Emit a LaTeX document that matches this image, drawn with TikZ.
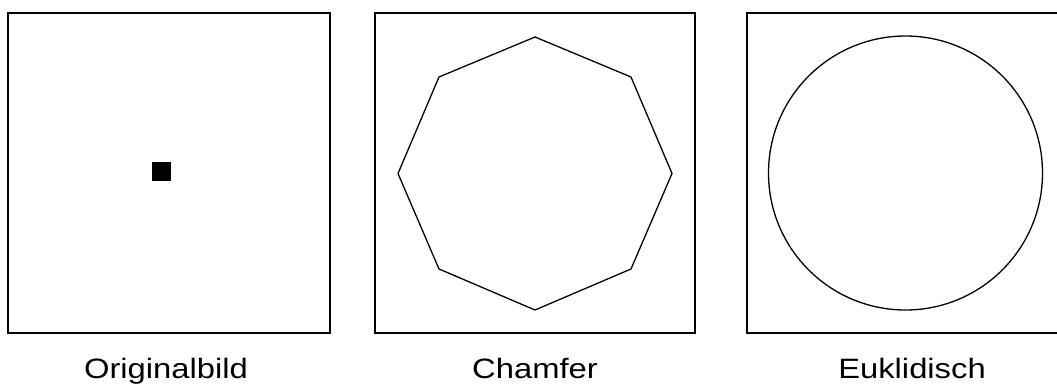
\documentclass[tikz,border=0pt]{standalone}
\usepackage{fontspec}
\setmainfont{Liberation Sans}
\begin{document}
\begin{tikzpicture}[x=1pt,y=-1pt,
  frame/.style={draw=black,line width=1.7pt},
  outline/.style={draw=black,line width=1.3pt,line join=round},
  caption/.style={anchor=base,inner sep=0pt,font=\fontsize{28}{30}\selectfont,xscale=1.17}]
\useasboundingbox (0,0) rectangle (1057,385);
\clip (0,0) rectangle (1057,385);
% frames
\draw[frame] (8,13) rectangle (330,333);
\draw[frame] (375,13) rectangle (695,333);
\draw[frame] (747,13) rectangle (1067,333);
% original: single pixel block
\fill[black] (152,162) rectangle (171,181);
% chamfer octagon
\draw[outline] (535,37) -- (631,77) -- (672,173.5) -- (631,269) -- (535,310)
  -- (439,269) -- (398,173.5) -- (439,77) -- cycle;
% euclidean circle
\draw[outline] (905.5,173) circle[radius=137];
% labels
\node[caption] (l1) at (166,378) {Originalbild};
\node[caption] (l2) at (535,378) {Chamfer};
\node[caption] (l3) at (912,378) {Euklidisch};
\end{tikzpicture}
\end{document}
